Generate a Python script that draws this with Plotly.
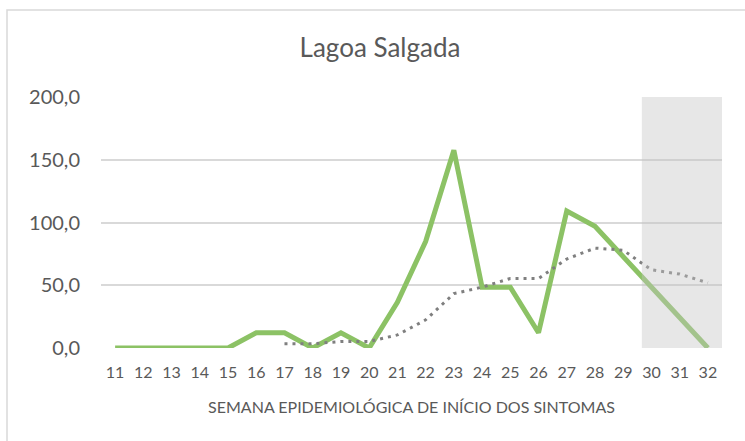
import plotly.graph_objects as go

weeks = ["11","12","13","14","15","16","17","18","19","20","21","22","23","24","25","26","27","28","29","30","31","32"]
incidence = [0,0,0,0,0,12.1,12.1,0,12.1,0,36.4,84.8,157.6,48.5,48.5,12.1,109.1,97.0,72.7,48.5,24.2,0]
ma_weeks = ["17","18","19","20","21","22","23","24","25","26","27","28","29","30","31","32"]
moving_avg = [3.4,3.4,5.2,5.2,10.4,22.4,43.3,48.5,55.4,55.4,70.9,79.6,77.9,62.3,58.9,51.9]
y_ticks = [0,50,100,150,200]
y_tick_text = ["0,0","50,0","100,0","150,0","200,0"]
shade_from = "30"

TXT = "#595959"
FONT = "Lato"

fig = go.Figure()
fig.add_trace(go.Scatter(x=weeks, y=incidence, mode="lines",
                         line=dict(color="#8cc265", width=5), showlegend=False, hoverinfo="skip"))
fig.add_trace(go.Scatter(x=ma_weeks, y=moving_avg, mode="lines",
                         line=dict(color="#7f7f7f", width=3, dash="3px,5px"), showlegend=False, hoverinfo="skip"))

# plot area geometry in pixels
L, R, T, B = 101, 23, 97, 93
W, H = 745, 441
pw, ph = W - L - R, H - T - B

i0 = weeks.index(shade_from)
fig.add_shape(type="rect", xref="x", yref="y", x0=i0 - 0.34, x1=len(weeks) - 0.5,
              y0=0, y1=200, fillcolor="rgba(196,196,196,0.41)", line=dict(width=0), layer="above")

# outer chart border
fig.add_shape(type="rect", xref="paper", yref="paper",
              x0=(7 - L) / pw, x1=(W + 10 - L) / pw,
              y0=(H - B - (H + 10)) / ph, y1=(H - B - 10) / ph,
              line=dict(color="#d9d9d9", width=1.5), fillcolor="rgba(0,0,0,0)", layer="below")

fig.update_layout(
    width=W, height=H,
    margin=dict(l=L, r=R, t=T, b=B),
    paper_bgcolor="white", plot_bgcolor="white",
    font=dict(family=FONT, color=TXT),
    title=dict(text="Lagoa Salgada", x=(380) / W, xanchor="center", y=1 - 48 / H, yanchor="middle",
               font=dict(size=26, color=TXT, family=FONT)),
    xaxis=dict(type="category", categoryorder="array", categoryarray=weeks,
               range=[-0.5, len(weeks) - 0.5], showgrid=False, zeroline=False,
               showline=False, ticks="", tickfont=dict(size=16, color=TXT), ticklabelstandoff=13,
               title=dict(text="SEMANA EPIDEMIOLÓGICA DE INÍCIO DOS SINTOMAS",
                          font=dict(size=16, color=TXT), standoff=21)),
    yaxis=dict(range=[0, 200], tickvals=y_ticks, ticktext=y_tick_text,
               showgrid=True, gridcolor="#d9d9d9", gridwidth=1.5, zeroline=False,
               showline=False, ticks="", tickfont=dict(size=20, color=TXT), ticklabelstandoff=20),
)

fig.write_html("out.html", config={"displayModeBar": False},
               post_script="document.body.style.margin='0px';document.body.style.overflow='hidden';")
